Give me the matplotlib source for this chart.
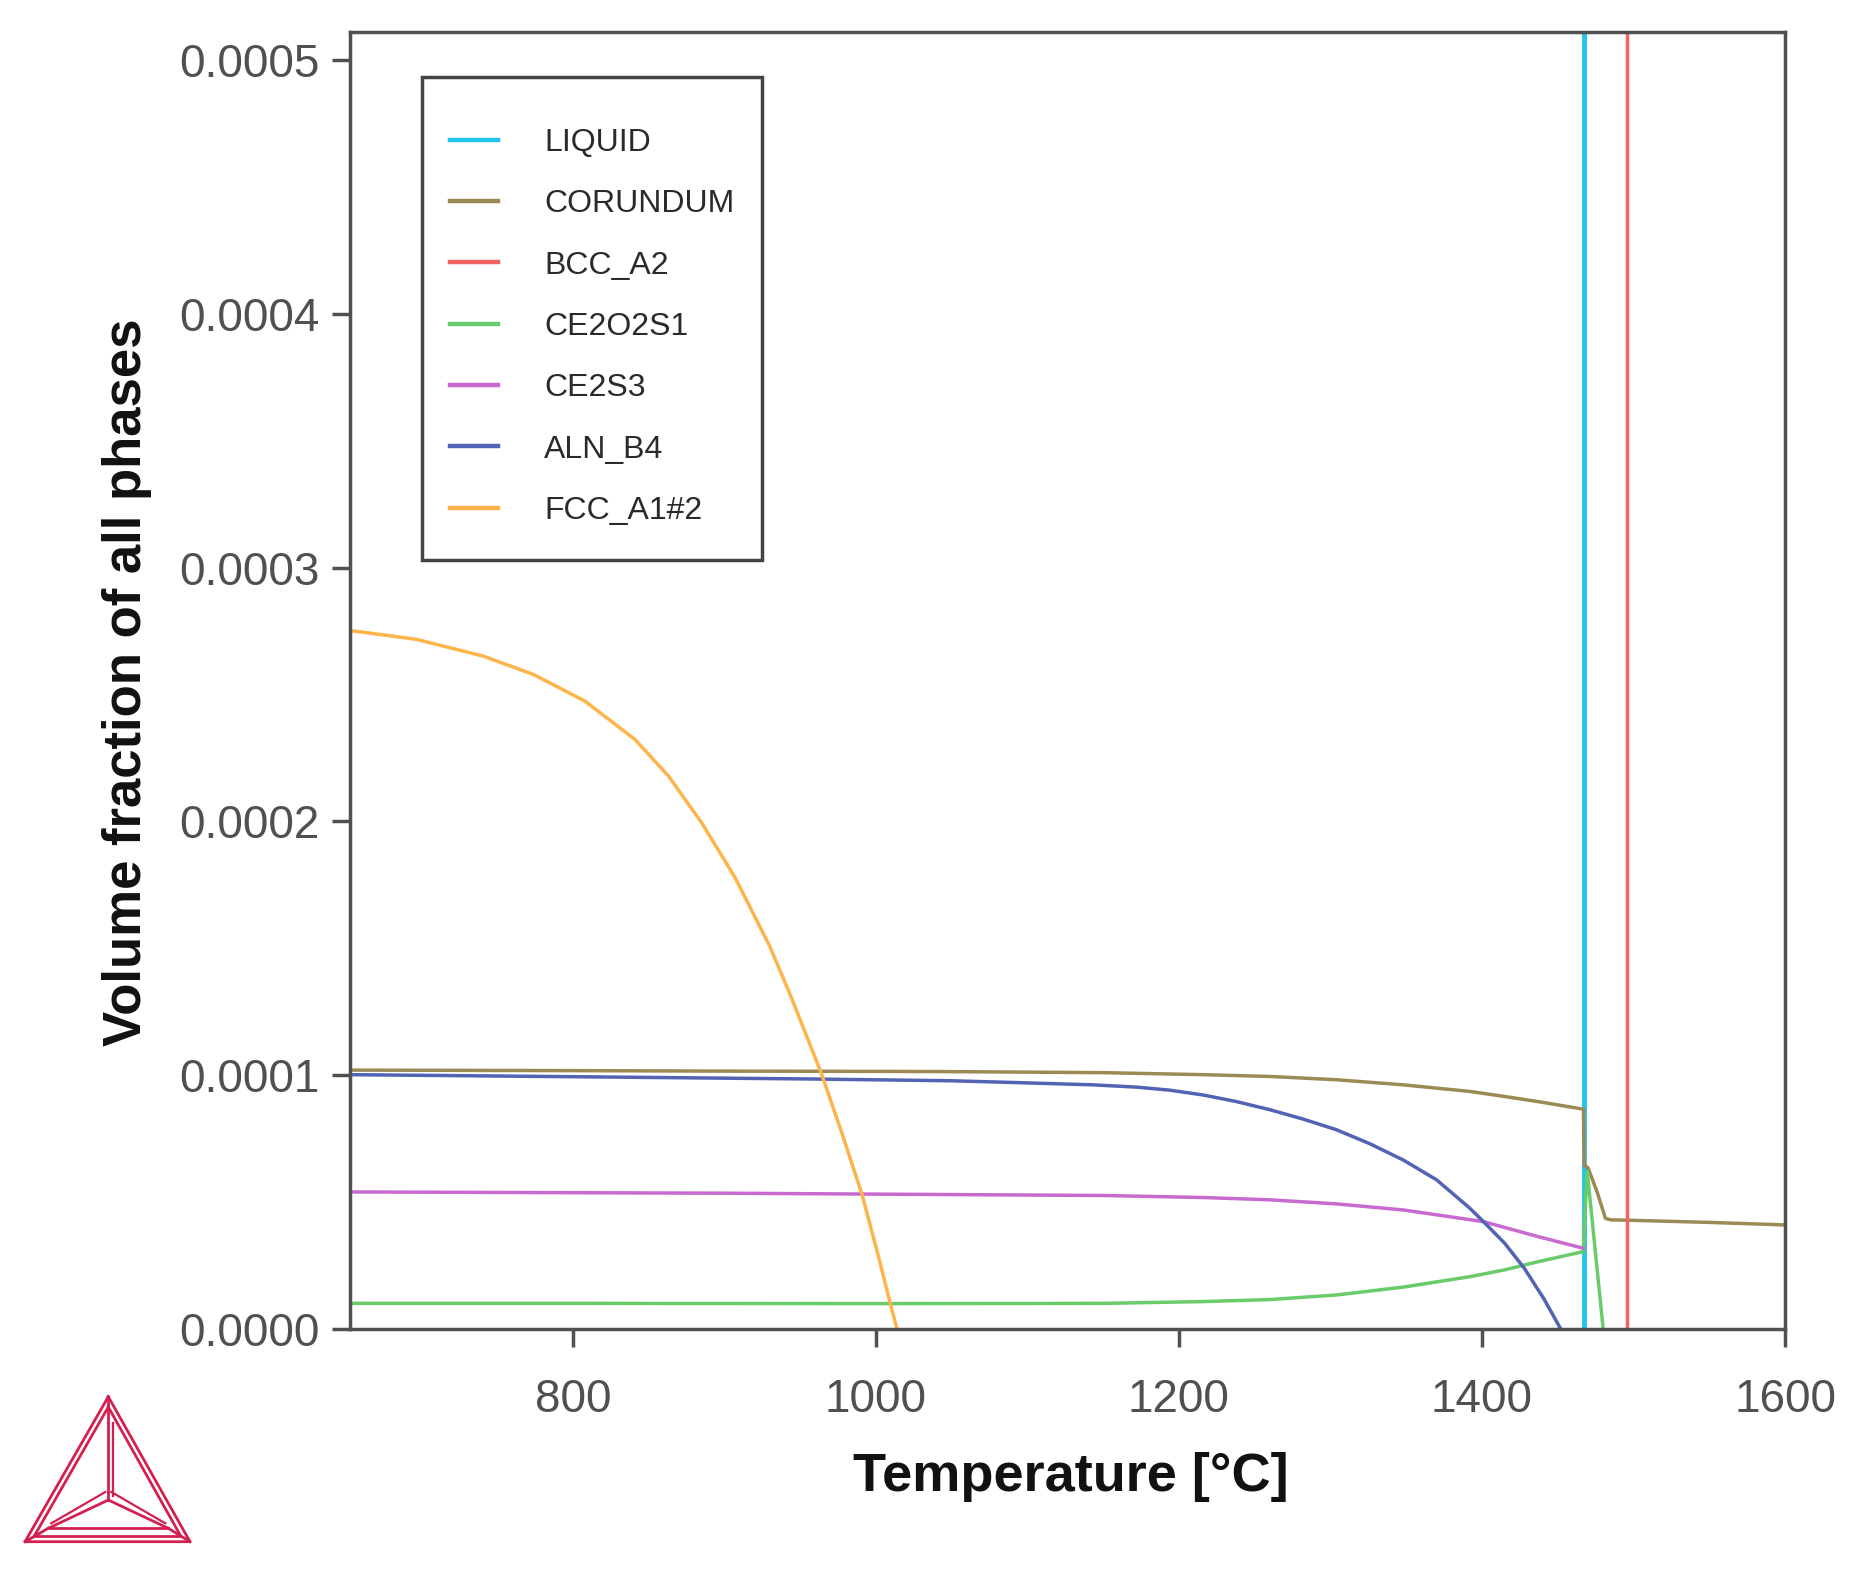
import numpy as np
import matplotlib.pyplot as plt
from matplotlib.patches import Rectangle

plt.rcParams['font.family'] = ['Liberation Sans', 'DejaVu Sans']

# temperatures in degC, volume fractions in units of 1e-4
liquid_T = [1467.5, 1467.5]
liquid_V = [0.0, 10000.0]

corundum_T = [653, 800, 900, 1000, 1050, 1100, 1150, 1183, 1216, 1260, 1304, 1348, 1392, 1415,
              1437, 1467, 1467.5, 1470, 1476, 1481.5, 1485, 1500, 1550, 1600]
corundum_V = [1.020, 1.018, 1.016, 1.015, 1.014, 1.012, 1.010, 1.006, 1.002, 0.995, 0.982, 0.962, 0.936, 0.916,
              0.896, 0.866, 0.645, 0.635, 0.540, 0.436, 0.430, 0.428, 0.420, 0.410]

bcc_T = [653, 1495.6, 1495.6]
bcc_V = [10000.0, 10000.0, 0.0]

ce2o2s1_T = [653, 800, 1000, 1150, 1216, 1260, 1304, 1348, 1392, 1415, 1437, 1467, 1467.5, 1469.5, 1480]
ce2o2s1_V = [0.101, 0.101, 0.100, 0.101, 0.108, 0.116, 0.134, 0.165, 0.206, 0.233, 0.265, 0.305, 0.40, 0.62, 0.0]

ce2s3_T = [653, 900, 1150, 1216, 1260, 1304, 1348, 1370, 1401, 1437, 1467]
ce2s3_V = [0.540, 0.535, 0.526, 0.518, 0.509, 0.493, 0.469, 0.450, 0.423, 0.364, 0.318]

aln_T = [653, 800, 957, 1050, 1092, 1143, 1172, 1194, 1216, 1238, 1260, 1282, 1304, 1326, 1348,
         1370, 1392, 1401, 1415, 1428, 1441, 1452]
aln_V = [1.002, 0.994, 0.985, 0.978, 0.971, 0.962, 0.953, 0.941, 0.922, 0.896, 0.864, 0.827, 0.785, 0.730, 0.666,
         0.588, 0.476, 0.423, 0.338, 0.239, 0.118, 0.0]

fcc_T = [653, 697, 741, 774, 808, 841, 863, 885, 907, 930, 944, 964, 978, 991, 1002, 1009.5, 1014]
fcc_V = [2.752, 2.717, 2.651, 2.579, 2.474, 2.323, 2.180, 1.995, 1.780, 1.508, 1.310, 1.008, 0.765, 0.528,
         0.280, 0.101, 0.0]

series = [
    ('LIQUID', liquid_T, liquid_V, '#22c4ee'),
    ('CORUNDUM', corundum_T, corundum_V, '#9c8a55'),
    ('BCC_A2', bcc_T, bcc_V, '#f46262'),
    ('CE2O2S1', ce2o2s1_T, ce2o2s1_V, '#6acb6a'),
    ('CE2S3', ce2s3_T, ce2s3_V, '#c86ad0'),
    ('ALN_B4', aln_T, aln_V, '#5263b4'),
    ('FCC_A1#2', fcc_T, fcc_V, '#fdb44b'),
]

fig = plt.figure(figsize=(18.54, 15.76), dpi=100)
ax = fig.add_axes([350/1854, 1 - 1329/1576, 1435/1854, 1297/1576])

for name, T, V, col in series:
    lw = 3.5 if name == 'LIQUID' else 2.5
    ax.plot(T, np.array(V) * 1e-4, color=col, lw=lw, label=name)

ax.set_xlim(653, 1600)
ax.set_ylim(0, 0.000511)
ax.set_xticks([800, 1000, 1200, 1400, 1600])
ax.set_yticks([0, 0.0001, 0.0002, 0.0003, 0.0004, 0.0005])
ax.set_yticklabels(['%.4f' % v for v in ax.get_yticks()])

for s in ax.spines.values():
    s.set_color('#505050')
    s.set_linewidth(2.5)
ax.tick_params(direction='out', length=13, width=2.5, color='#505050',
               labelsize=33, labelcolor='#505050', pad=9)
ax.tick_params(axis='x', pad=22)

ax.set_xlabel('Temperature [°C]', fontsize=39, fontweight='bold', color='#111111')
ax.set_ylabel('Volume fraction of all phases', fontsize=38, fontweight='bold', color='#111111')
ax.xaxis.set_label_coords(0.502, -0.095)
ax.yaxis.set_label_coords(-0.138, 0.499)

# legend box drawn separately
ax.add_patch(Rectangle((0.0502, 0.5929), 0.2369, 0.3724, transform=ax.transAxes,
                       fill=False, edgecolor='#444444', lw=2.5, zorder=5))
leg = ax.legend(loc='upper left', bbox_to_anchor=(0.0697, 0.926), frameon=False,
                borderpad=0, borderaxespad=0, fontsize=23, handlelength=1.5,
                handletextpad=1.45, labelspacing=0.98, labelcolor='#2a2a2a')
for ln in leg.get_lines():
    ln.set_linewidth(3.2)

# Thermo-Calc style logo
lg = fig.add_axes([15/1854, 1 - 1555/1576, 185/1854, 170/1576])
lg.set_xlim(15, 200)
lg.set_ylim(1555, 1385)
lg.axis('off')
red = '#d4204f'
A, B, C = (108.3, 1396.7), (25, 1541.7), (190, 1541.7)
A2, B2, C2 = (108.3, 1407), (34, 1536.5), (181, 1536.5)
a, b, c, o = (108.3, 1423.3), (48.3, 1528.3), (168.3, 1528.3), (108.3, 1500)
for P in [(A, B, C, A), (A2, B2, C2, A2)]:
    lg.plot([p[0] for p in P], [p[1] for p in P], color=red, lw=2)
for p, q in [(a, o), (b, o), (c, o), (A, a), (B, b), (C, c), (b, c)]:
    lg.plot([p[0], q[0]], [p[1], q[1]], color=red, lw=2)
for p, q in [((a[0] + 5, a[1]), (o[0] + 5, o[1] - 4)), ((b[0] + 3, b[1] - 5), (o[0] - 3, o[1] - 8)),
             ((c[0] - 3, c[1] - 5), (o[0] + 3, o[1] - 8))]:
    lg.plot([p[0], q[0]], [p[1], q[1]], color=red, lw=1.6)

fig.savefig('out.png', dpi=100)
